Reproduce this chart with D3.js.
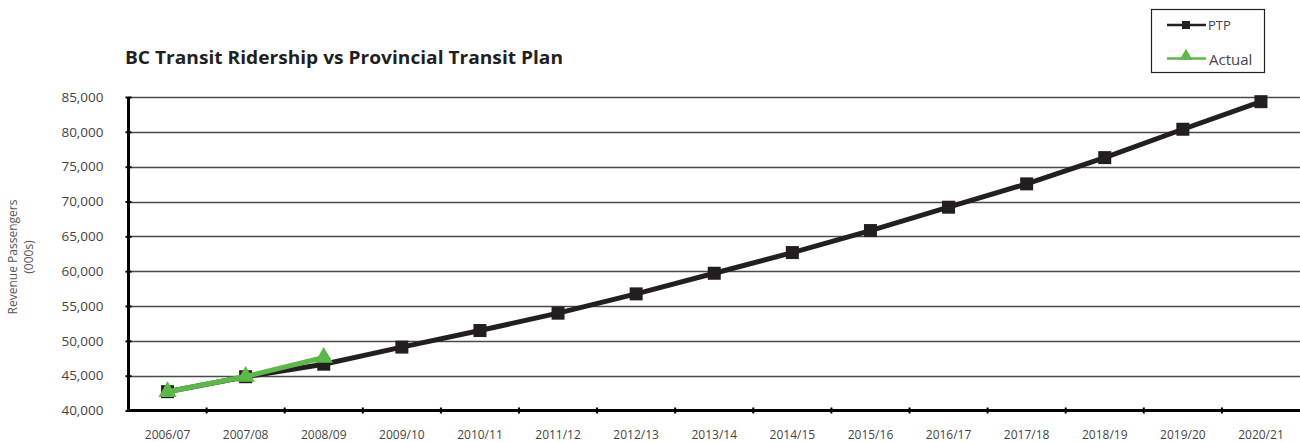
<!DOCTYPE html>
<html>
<head>
<meta charset="utf-8">
<script src="https://cdn.jsdelivr.net/npm/d3@7"></script>
<style>
  html, body { margin: 0; padding: 0; background: #fff; }
  svg { display: block; font-family: "Open Sans", "Noto Sans", sans-serif; }
</style>
</head>
<body>
<svg id="chart" width="1300" height="442"></svg>
<script>
const categories = ["2006/07","2007/08","2008/09","2009/10","2010/11","2011/12","2012/13","2013/14","2014/15","2015/16","2016/17","2017/18","2018/19","2019/20","2020/21"];
const ptpValues = [42700, 44850, 46650, 49100, 51480, 53970, 56740, 59700, 62670, 65830, 69180, 72530, 76300, 80370, 84330];
const actualValues = [42700, 44880, 47600];
const yTicks = [40000, 45000, 50000, 55000, 60000, 65000, 70000, 75000, 80000, 85000];
const seriesNames = ["PTP", "Actual"];
const titleText = "BC Transit Ridership vs Provincial Transit Plan";
const yTitle = ["Revenue Passengers", "(000s)"];

const svg = d3.select("#chart");
const pLeft = 128.5, pRight = 1300, pTop = 97, pBottom = 410.5;

const x = d3.scaleBand().domain(categories).range([pLeft, pRight]).paddingInner(0).paddingOuter(0);
const y = d3.scaleLinear().domain([40000, 85000]).range([pBottom, pTop]);

const ptpColor = "#231f20";
const actColor = "#5bb947";

// gridlines
svg.append("g").selectAll("line").data(yTicks.slice(1)).join("line")
  .attr("x1", pLeft).attr("x2", pRight)
  .attr("y1", d => Math.round(y(d)) + 0.5).attr("y2", d => Math.round(y(d)) + 0.5)
  .attr("stroke", "#4a4a4a").attr("stroke-width", 1.3);

// title
svg.append("text").attr("x", 125).attr("y", 64)
  .attr("font-size", 17).attr("font-weight", "bold").attr("fill", "#231f20")
  .attr("textLength", 438).attr("lengthAdjust", "spacingAndGlyphs")
  .text(titleText);

// y axis
const yAxis = d3.axisLeft(y).tickValues(yTicks).tickFormat(d3.format(",")).tickSize(3).tickPadding(22);
const gy = svg.append("g").attr("transform", `translate(${pLeft},0)`).call(yAxis);
gy.select(".domain").attr("stroke", "#000").attr("stroke-width", 3).attr("d", `M0,${pTop}V${pBottom}`);
gy.selectAll(".tick line").attr("stroke", "#000").attr("stroke-width", 2).attr("x1", 3).attr("x2", -3);
gy.selectAll(".tick text").attr("font-size", 13.5).attr("fill", "#444").attr("font-family", "Open Sans");

// x axis
const xAxis = d3.axisBottom(x).tickSize(0).tickPadding(20);
const gx = svg.append("g").attr("transform", `translate(0,${pBottom})`).call(xAxis);
gx.select(".domain").attr("stroke", "#000").attr("stroke-width", 3).attr("d", `M${pLeft - 1.5},0H${pRight}`);
gx.selectAll(".tick text").attr("font-size", 12).attr("fill", "#444").attr("font-family", "Open Sans");
// boundary ticks
svg.append("g").selectAll("line").data(categories.slice(1)).join("line")
  .attr("x1", d => x(d)).attr("x2", d => x(d))
  .attr("y1", pBottom - 3).attr("y2", pBottom + 3)
  .attr("stroke", "#000").attr("stroke-width", 2);

// y title
const yt = svg.append("text").attr("transform", "translate(17,257) rotate(-90)")
  .attr("text-anchor", "middle").attr("font-size", 12).attr("fill", "#555");
yt.append("tspan").attr("x", 0).attr("dy", 0).text(yTitle[0]);
yt.append("tspan").attr("x", 0).attr("dy", 16).text(yTitle[1]);

const cx = d => x(d) + x.bandwidth() / 2;
const line = d3.line().x(d => cx(d.c)).y(d => y(d.v));

const ptpData = categories.map((c, i) => ({c, v: ptpValues[i]}));
const actData = actualValues.map((v, i) => ({c: categories[i], v}));

svg.append("path").datum(ptpData).attr("d", line).attr("fill", "none")
  .attr("stroke", ptpColor).attr("stroke-width", 5);
svg.append("g").selectAll("rect").data(ptpData).join("rect")
  .attr("x", d => cx(d.c) - 6.5).attr("y", d => y(d.v) - 6.5)
  .attr("width", 13).attr("height", 13).attr("fill", ptpColor);

svg.append("path").datum(actData).attr("d", line).attr("fill", "none")
  .attr("stroke", actColor).attr("stroke-width", 5);
const tri = d3.symbol().type(d3.symbolTriangle).size(145);
svg.append("g").selectAll("path").data(actData).join("path")
  .attr("d", tri).attr("transform", d => `translate(${cx(d.c)},${y(d.v)})`).attr("fill", actColor);

// legend
const lg = svg.append("g");
lg.append("rect").attr("x", 1151.5).attr("y", 9.5).attr("width", 113).attr("height", 63)
  .attr("fill", "#fff").attr("stroke", "#231f20").attr("stroke-width", 1.2);
lg.append("line").attr("x1", 1167).attr("x2", 1206).attr("y1", 25).attr("y2", 25)
  .attr("stroke", ptpColor).attr("stroke-width", 2.5);
lg.append("rect").attr("x", 1182).attr("y", 21).attr("width", 8).attr("height", 8).attr("fill", ptpColor);
lg.append("text").attr("x", 1208).attr("y", 30).attr("font-size", 13).attr("fill", "#444").text(seriesNames[0]);
lg.append("line").attr("x1", 1167).attr("x2", 1206).attr("y1", 58.5).attr("y2", 58.5)
  .attr("stroke", actColor).attr("stroke-width", 2.5);
lg.append("path").attr("d", d3.symbol().type(d3.symbolTriangle).size(70))
  .attr("transform", "translate(1186,56)").attr("fill", actColor);
lg.append("text").attr("x", 1209).attr("y", 65).attr("font-size", 15).attr("fill", "#444").text(seriesNames[1]);
</script>
</body>
</html>
